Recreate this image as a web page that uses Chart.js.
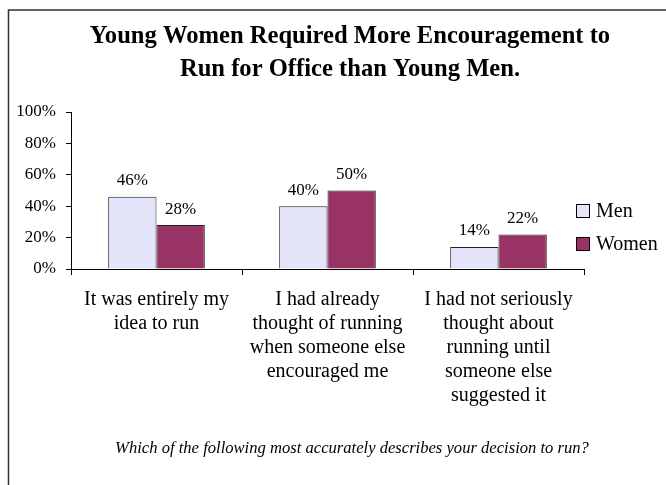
<!DOCTYPE html>
<html lang="en">

<head>
    <meta charset="UTF-8">
    <title>Young Women Required More Encouragement</title>
    <script src="https://cdn.jsdelivr.net/npm/chart.js@4.4.0/dist/chart.umd.min.js"></script>
    <style>
        body { margin: 0; background: #fff; }
        canvas { display: block; }
    </style>
</head>

<body>
    <canvas id="chart" width="666" height="485"></canvas>

    <script>
        // data -------------------------------------------
        const categories = [
            ['It was entirely my', 'idea to run'],
            ['I had already', 'thought of running', 'when someone else', 'encouraged me'],
            ['I had not seriously', 'thought about', 'running until', 'someone else', 'suggested it']
        ]
        const menValues = [46, 40, 14]
        const womenValues = [28, 50, 22]
        const yTicks = [0, 20, 40, 60, 80, 100]

        const titleLines = ['Young Women Required More Encouragement to', 'Run for Office than Young Men.']
        const footnote = 'Which of the following most accurately describes your decision to run?'

        const serif = '"Liberation Serif", "Times New Roman", serif'

        // extras drawn on top: frame, title, value labels, legend, footnote
        const decorations = {
            id: 'decorations',
            afterDraw(chart) {
                const ctx = chart.ctx
                ctx.save()

                // frame (only left and top edges show in the crop)
                ctx.strokeStyle = '#333'
                ctx.lineWidth = 1.5
                ctx.beginPath()
                ctx.moveTo(8.5, 490)
                ctx.lineTo(8.5, 10)
                ctx.lineTo(670, 10)
                ctx.stroke()

                ctx.fillStyle = '#000'
                ctx.textAlign = 'center'
                ctx.textBaseline = 'middle'

                ctx.font = 'bold 24.6px ' + serif
                ctx.fillText(titleLines[0], 350, 37)
                ctx.fillText(titleLines[1], 350, 70)

                // value labels above bars
                ctx.font = '17px ' + serif
                chart.data.datasets.forEach((ds, i) => {
                    chart.getDatasetMeta(i).data.forEach((bar, j) => {
                        ctx.fillText(ds.data[j] + '%', bar.x, bar.y - 16)
                    })
                })

                // legend
                ctx.textAlign = 'left'
                ctx.font = '20px ' + serif
                chart.data.datasets.forEach((ds, i) => {
                    const y = 211 + i * 33
                    ctx.fillStyle = ds.backgroundColor
                    ctx.fillRect(576, y - 7, 14, 14)
                    ctx.strokeStyle = '#000'
                    ctx.lineWidth = 1
                    ctx.strokeRect(576.5, y - 6.5, 13, 13)
                    ctx.fillStyle = '#000'
                    ctx.fillText(ds.label, 596, y + 1)
                })

                ctx.textAlign = 'center'
                ctx.font = 'italic 16.6px ' + serif
                ctx.fillText(footnote, 352, 449)

                ctx.restore()
            }
        }

        //chart-------------------------------------------
        const ctx = document.getElementById('chart').getContext('2d')
        const myChart = new Chart(ctx, {
            type: 'bar',
            data: {
                labels: categories,
                datasets: [{
                    label: 'Men',
                    data: menValues,
                    backgroundColor: '#E3E3FA',
                    borderColor: '#222',
                    borderWidth: 1
                }, {
                    label: 'Women',
                    data: womenValues,
                    backgroundColor: '#993366',
                    borderColor: '#222',
                    borderWidth: 1
                }]
            },
            options: {
                responsive: false,
                animation: false,
                devicePixelRatio: 1,
                categoryPercentage: 0.565,
                barPercentage: 1,
                layout: {
                    padding: { top: 112, right: 82, bottom: 66, left: 8 }
                },
                plugins: {
                    legend: { display: false },
                    title: { display: false },
                    tooltip: { enabled: false }
                },
                scales: {
                    x: {
                        afterFit: scale => { scale.height = 150 },
                        grid: {
                            offset: true,
                            drawOnChartArea: false,
                            tickLength: 6,
                            color: '#000'
                        },
                        border: { color: '#000' },
                        ticks: {
                            color: '#000',
                            font: { family: serif, size: 20, lineHeight: 1.2 },
                            padding: 13,
                            maxRotation: 0,
                            autoSkip: false
                        }
                    },
                    y: {
                        min: 0,
                        max: 100,
                        afterFit: scale => { scale.width = 63 },
                        afterBuildTicks: scale => {
                            scale.ticks = yTicks.map(v => ({ value: v }))
                        },
                        grid: {
                            drawOnChartArea: false,
                            tickLength: 5,
                            color: '#000'
                        },
                        border: { color: '#000' },
                        ticks: {
                            color: '#000',
                            font: { family: serif, size: 17 },
                            padding: 10,
                            callback: v => v + '%'
                        }
                    }
                }
            },
            plugins: [decorations]
        })
    </script>

</body>

</html>
